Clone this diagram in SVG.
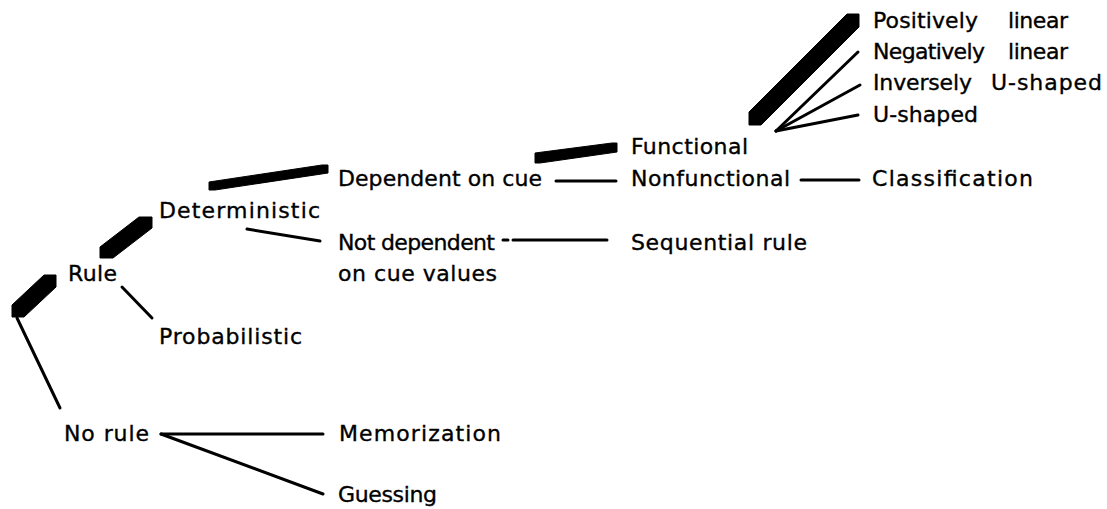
<svg xmlns="http://www.w3.org/2000/svg" width="1107" height="509" viewBox="0 0 1107 509">
  <style>
    .lbl { font-family: "DejaVu Sans", Verdana, sans-serif; font-size: 22px; fill: #000; stroke: #000; stroke-width: 0.35; }
    .thin { stroke: #000; stroke-width: 3; fill: none; stroke-linecap: round; }
    .bar { fill: #000; stroke: #000; stroke-width: 1; stroke-linejoin: round; }
  </style>
  <rect width="1107" height="509" fill="#fff"/>

  <!-- connectors: thick bars for the ruled/deterministic/functional path, thin lines elsewhere -->
  <g id="connectors">
    <polygon class="bar" points="12,305 44,275 56,275 56,287 24,317 12,317"/>
    <polygon class="bar" points="100,247 139,217 152,217 152,228 113,258 100,258"/>
    <polygon class="bar" points="209,182 322,165 328,165 328,173 215,190 209,190"/>
    <polygon class="bar" points="535,153 612,143 617,143 617,152 540,163 535,163"/>
    <polygon class="bar" points="749,112 847,14 859,14 859,27 761,125 749,125"/>

    <line class="thin" x1="17" y1="318" x2="60" y2="408"/>
    <line class="thin" x1="122" y1="287" x2="152" y2="318"/>
    <line class="thin" x1="247" y1="229" x2="320" y2="241"/>
    <line class="thin" x1="556" y1="181" x2="616" y2="181"/>
    <line class="thin" x1="801" y1="180" x2="859" y2="180"/>
    <line class="thin" x1="503" y1="240" x2="508" y2="240"/>
    <line class="thin" x1="513" y1="240" x2="607" y2="240"/>
    <line class="thin" x1="776" y1="131" x2="858" y2="52"/>
    <line class="thin" x1="776" y1="131" x2="860" y2="85"/>
    <line class="thin" x1="776" y1="131" x2="858" y2="115"/>
    <line class="thin" x1="161" y1="434" x2="323" y2="434"/>
    <line class="thin" x1="161" y1="434" x2="323" y2="494"/>
  </g>

  <g id="rule"><text class="lbl" x="68" y="281" textLength="49" lengthAdjust="spacing">Rule</text></g>
  <g id="no-rule"><text class="lbl" x="64" y="441" textLength="85" lengthAdjust="spacing">No rule</text></g>
  <g id="deterministic"><text class="lbl" x="159" y="218" textLength="161" lengthAdjust="spacing">Deterministic</text></g>
  <g id="probabilistic"><text class="lbl" x="159" y="344" textLength="143" lengthAdjust="spacing">Probabilistic</text></g>
  <g id="dependent"><text class="lbl" x="338" y="186" textLength="204" lengthAdjust="spacing">Dependent on cue</text></g>
  <g id="not-dependent">
    <text class="lbl" x="338" y="250" textLength="157" lengthAdjust="spacing">Not dependent</text>
    <text class="lbl" x="338" y="281" textLength="159" lengthAdjust="spacing">on cue values</text>
  </g>
  <g id="memorization"><text class="lbl" x="339" y="441" textLength="162" lengthAdjust="spacing">Memorization</text></g>
  <g id="guessing"><text class="lbl" x="338" y="502" textLength="99" lengthAdjust="spacing">Guessing</text></g>
  <g id="functional"><text class="lbl" x="631" y="154" textLength="117" lengthAdjust="spacing">Functional</text></g>
  <g id="nonfunctional"><text class="lbl" x="631" y="186" textLength="159" lengthAdjust="spacing">Nonfunctional</text></g>
  <g id="sequential"><text class="lbl" x="631" y="250" textLength="176" lengthAdjust="spacing">Sequential rule</text></g>
  <g id="classification"><text class="lbl" x="872" y="186" textLength="161" lengthAdjust="spacing">Classification</text></g>
  <g id="pos-linear"><text class="lbl" y="28"><tspan x="873" textLength="105" lengthAdjust="spacing">Positively</tspan><tspan x="1008" textLength="60" lengthAdjust="spacing">linear</tspan></text></g>
  <g id="neg-linear"><text class="lbl" y="59"><tspan x="873" textLength="112" lengthAdjust="spacing">Negatively</tspan><tspan x="1008" textLength="60" lengthAdjust="spacing">linear</tspan></text></g>
  <g id="inv-u"><text class="lbl" y="90"><tspan x="873" textLength="99" lengthAdjust="spacing">Inversely</tspan><tspan x="991" textLength="111" lengthAdjust="spacing">U-shaped</tspan></text></g>
  <g id="u-shaped"><text class="lbl" x="873" y="122" textLength="105" lengthAdjust="spacing">U-shaped</text></g>
</svg>
